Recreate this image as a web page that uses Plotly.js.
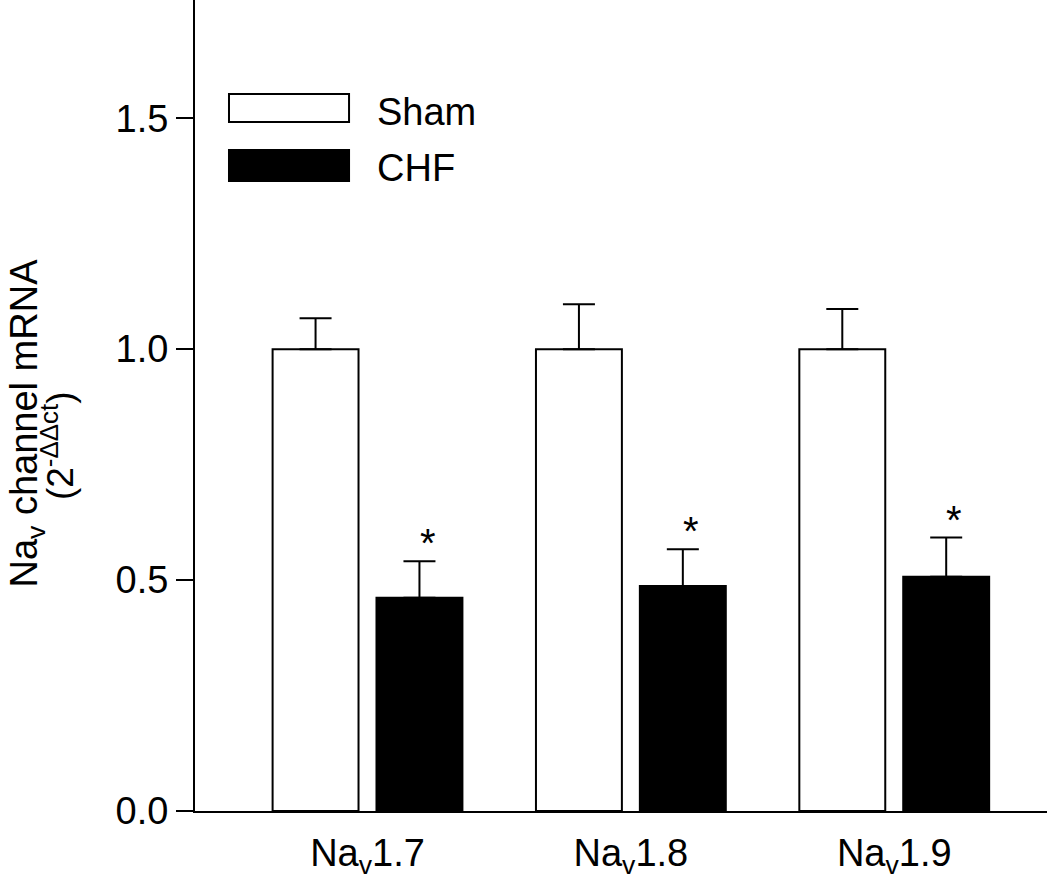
<!DOCTYPE html>
<html>
<head>
<meta charset="utf-8">
<script src="https://cdn.plot.ly/plotly-3.0.1.min.js"></script>
<style>
  html, body { margin: 0; padding: 0; background: #ffffff; }
  #chart { width: 1050px; height: 887px; }
</style>
</head>
<body>
<div id="chart"></div>
<script>
// ---- data ----
const categories = ["Na<sub>v</sub>1.7", "Na<sub>v</sub>1.8", "Na<sub>v</sub>1.9"];
const seriesNames = ["Sham", "CHF"];
const shamValues = [1.0, 1.0, 1.0];
const shamErrors = [0.067, 0.097, 0.087];
const chfValues = [0.462, 0.487, 0.507];
const chfErrors = [0.079, 0.080, 0.085];
const noLowerError = [0, 0, 0];
const significant = [true, true, true];
const yTickValues = [0, 0.5, 1.0, 1.5];
const yTickLabels = ["0.0", "0.5", "1.0", "1.5"];

const FONT = "Liberation Sans, Arial, Helvetica, sans-serif";
const FS = 38;

const traces = [
  {
    type: "bar", name: seriesNames[0], x: categories, y: shamValues,
    marker: { color: "#ffffff", line: { color: "#000000", width: 2 } },
    error_y: { type: "data", symmetric: false, array: shamErrors, arrayminus: noLowerError,
               color: "#000000", thickness: 2, width: 16 },
    hoverinfo: "skip"
  },
  {
    type: "bar", name: seriesNames[1], x: categories, y: chfValues,
    marker: { color: "#000000", line: { color: "#000000", width: 2 } },
    error_y: { type: "data", symmetric: false, array: chfErrors, arrayminus: noLowerError,
               color: "#000000", thickness: 2, width: 16 },
    hoverinfo: "skip"
  }
];

const annotations = [];
// significance asterisks above CHF error bars
categories.forEach((c, i) => {
  if (significant[i]) {
    annotations.push({
      x: c, xref: "x", y: chfValues[i] + chfErrors[i], yref: "y",
      text: "*", showarrow: false, xanchor: "center", yanchor: "bottom",
      xshift: 60, yshift: -6,
      font: { family: FONT, size: 40, color: "#000000" }
    });
  }
});

// y-axis title (two lines)
annotations.push({
  xref: "paper", yref: "paper", x: -0.197, y: 0.478,
  text: "Na<sub>v</sub> channel mRNA", textangle: -90, showarrow: false,
  xanchor: "center", yanchor: "middle",
  font: { family: FONT, size: FS, color: "#000000" }
});
annotations.push({
  xref: "paper", yref: "paper", x: -0.161, y: 0.451,
  text: "(2<sup>-ΔΔct</sup>)", textangle: -90, showarrow: false,
  xanchor: "center", yanchor: "middle",
  font: { family: FONT, size: 37, color: "#000000" }
});

// legend labels
annotations.push({
  xref: "paper", yref: "paper", x: 0.2115, y: 0.862, text: seriesNames[0],
  showarrow: false, xanchor: "left", yanchor: "middle",
  font: { family: FONT, size: FS, color: "#000000" }
});
annotations.push({
  xref: "paper", yref: "paper", x: 0.2115, y: 0.793, text: seriesNames[1],
  showarrow: false, xanchor: "left", yanchor: "middle",
  font: { family: FONT, size: FS, color: "#000000" }
});

// legend keys
const shapes = [
  { type: "rect", xref: "paper", yref: "paper", x0: 0.0399, x1: 0.1808, y0: 0.8496, y1: 0.8841,
    fillcolor: "#ffffff", line: { color: "#000000", width: 2 } },
  { type: "rect", xref: "paper", yref: "paper", x0: 0.0399, x1: 0.1808, y0: 0.7768, y1: 0.8150,
    fillcolor: "#000000", line: { color: "#000000", width: 2 } }
];

const layout = {
  width: 1050, height: 887,
  margin: { l: 195, r: 3, t: 0, b: 76, pad: 0 },
  paper_bgcolor: "#ffffff", plot_bgcolor: "#ffffff",
  barmode: "group", bargap: 0.211, bargroupgap: 0.173,
  showlegend: false,
  font: { family: FONT, size: FS, color: "#000000" },
  xaxis: {
    type: "category", range: [-0.655, 2.58],
    showline: true, linecolor: "#000000", linewidth: 2,
    ticks: "", showgrid: false, zeroline: false,
    ticklabelstandoff: 7,
    tickfont: { family: FONT, size: FS, color: "#000000" }
  },
  yaxis: {
    range: [0, 1.756], tickvals: yTickValues, ticktext: yTickLabels,
    showline: true, linecolor: "#000000", linewidth: 2,
    ticks: "outside", ticklen: 17, tickwidth: 2, tickcolor: "#000000",
    showgrid: false, zeroline: false,
    tickfont: { family: FONT, size: FS, color: "#000000" }
  },
  annotations: annotations,
  shapes: shapes
};

Plotly.newPlot("chart", traces, layout, { staticPlot: true, displayModeBar: false });
</script>
</body>
</html>
